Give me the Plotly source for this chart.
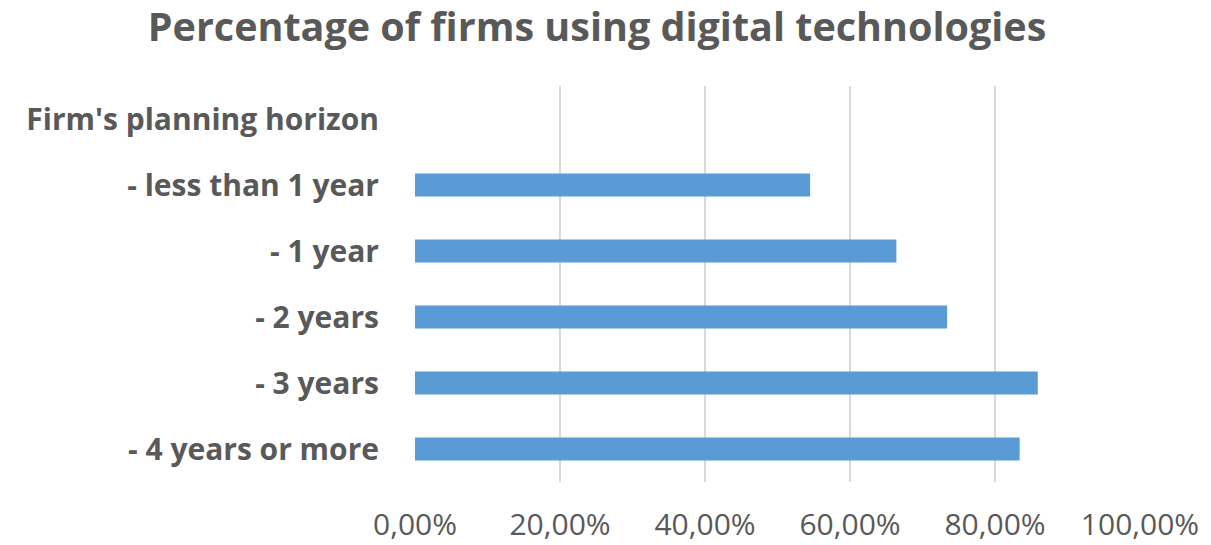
import plotly.graph_objects as go

categories = [
    "Firm's planning horizon",
    "- less than 1 year",
    "- 1 year",
    "- 2 years",
    "- 3 years",
    "- 4 years or more",
]
shares = [None, 0.545, 0.664, 0.734, 0.859, 0.834]
tick_values = [0, 0.2, 0.4, 0.6, 0.8, 1.0]

FONT = "Open Sans"
GREY = "#595959"

fig = go.Figure(
    go.Bar(
        y=categories,
        x=shares,
        orientation="h",
        marker=dict(color="#5B9BD5", line=dict(width=0)),
        width=0.35,
    )
)

fig.update_layout(
    width=1211,
    height=545,
    margin=dict(l=415, r=71, t=86, b=63),
    paper_bgcolor="white",
    plot_bgcolor="white",
    separators=",.",
    showlegend=False,
    title=dict(
        text="<b>Percentage of firms using digital technologies</b>",
        x=0.493,
        xanchor="center",
        y=0.95,
        yanchor="middle",
        font=dict(family=FONT, size=39.5, color=GREY),
    ),
    xaxis=dict(
        range=[0, 1.0],
        tickvals=tick_values,
        tickformat=".2%",
        showgrid=True,
        gridcolor="#d9d9d9",
        gridwidth=2,
        zeroline=False,
        showline=False,
        ticks="",
        automargin=False,
        ticklabelstandoff=22,
        tickfont=dict(family=FONT, size=30, color=GREY),
    ),
    yaxis=dict(
        autorange="reversed",
        showgrid=False,
        zeroline=False,
        showline=False,
        ticks="",
        automargin=False,
        ticklabelstandoff=35,
        tickfont=dict(family=FONT, size=30, color=GREY, weight="bold"),
    ),
)

fig.write_html("out.html")
